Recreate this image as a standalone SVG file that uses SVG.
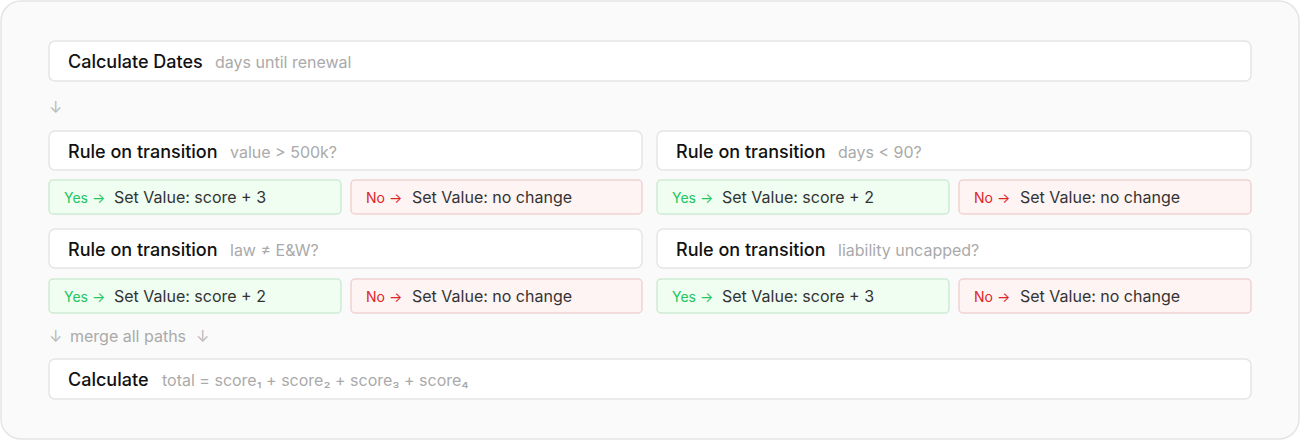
<svg xmlns="http://www.w3.org/2000/svg" width="1300" height="440" viewBox="0 0 1300 440">
<style>
.box{fill:#fff;stroke:#e5e5e5;stroke-width:1.5}
.yes{fill:#f0fdf1;stroke:#cfead4;stroke-width:1.5}
.no{fill:#fef4f4;stroke:#f0d2d2;stroke-width:1.5}
.t{font-family:Inter,"Liberation Sans",sans-serif;font-size:18px;font-weight:500;fill:#111}
.s{font-family:Inter,"Liberation Sans",sans-serif;font-size:16px;fill:#aaa}
.sv{font-family:Inter,"Liberation Sans",sans-serif;font-size:16px;fill:#333}
.yl{font-family:Inter,"Liberation Sans",sans-serif;font-size:14px;fill:#22c55e}
.nl{font-family:Inter,"Liberation Sans",sans-serif;font-size:14px;fill:#e02424}
.ar{font-family:Inter,"Liberation Sans",sans-serif;font-size:16px;fill:#bbb}
</style>
<rect x="1" y="1" width="1298" height="438" rx="20" fill="#fafafa" stroke="#e5e5e5" stroke-width="1.5"/>
<g id="n-dates"><rect class="box" x="49" y="41" width="1202" height="40" rx="6"/><text class="t" x="68" y="68">Calculate Dates</text><text class="s" x="215" y="68">days until renewal</text></g>
<g id="connectors">
<text class="ar" x="49" y="113">↓</text>
<text class="ar" x="49" y="342">↓</text>
<text class="s" x="70" y="342">merge all paths</text>
<text class="ar" x="196" y="342">↓</text>
</g>
<g id="rule1"><rect class="box" x="49" y="131" width="593" height="39" rx="6"/><text class="t" x="68" y="158">Rule on transition</text><text class="s" x="230" y="158">value &gt; 500k?</text></g>
<g id="rule1-yes"><rect class="yes" x="49" y="180" width="292" height="34" rx="4"/><text class="yl" x="64" y="203">Yes →</text><text class="sv" x="114" y="203">Set Value: score + 3</text></g>
<g id="rule1-no"><rect class="no" x="351" y="180" width="291" height="34" rx="4"/><text class="nl" x="366" y="203">No →</text><text class="sv" x="412" y="203">Set Value: no change</text></g>
<g id="rule2"><rect class="box" x="657" y="131" width="594" height="39" rx="6"/><text class="t" x="676" y="158">Rule on transition</text><text class="s" x="838" y="158">days &lt; 90?</text></g>
<g id="rule2-yes"><rect class="yes" x="657" y="180" width="292" height="34" rx="4"/><text class="yl" x="672" y="203">Yes →</text><text class="sv" x="722" y="203">Set Value: score + 2</text></g>
<g id="rule2-no"><rect class="no" x="959" y="180" width="292" height="34" rx="4"/><text class="nl" x="974" y="203">No →</text><text class="sv" x="1020" y="203">Set Value: no change</text></g>
<g id="rule3"><rect class="box" x="49" y="229" width="593" height="39" rx="6"/><text class="t" x="68" y="256">Rule on transition</text><text class="s" x="230" y="256">law ≠ E&amp;W?</text></g>
<g id="rule3-yes"><rect class="yes" x="49" y="279" width="292" height="34" rx="4"/><text class="yl" x="64" y="302">Yes →</text><text class="sv" x="114" y="302">Set Value: score + 2</text></g>
<g id="rule3-no"><rect class="no" x="351" y="279" width="291" height="34" rx="4"/><text class="nl" x="366" y="302">No →</text><text class="sv" x="412" y="302">Set Value: no change</text></g>
<g id="rule4"><rect class="box" x="657" y="229" width="594" height="39" rx="6"/><text class="t" x="676" y="256">Rule on transition</text><text class="s" x="838" y="256">liability uncapped?</text></g>
<g id="rule4-yes"><rect class="yes" x="657" y="279" width="292" height="34" rx="4"/><text class="yl" x="672" y="302">Yes →</text><text class="sv" x="722" y="302">Set Value: score + 3</text></g>
<g id="rule4-no"><rect class="no" x="959" y="279" width="292" height="34" rx="4"/><text class="nl" x="974" y="302">No →</text><text class="sv" x="1020" y="302">Set Value: no change</text></g>
<g id="n-calc"><rect class="box" x="49" y="359" width="1202" height="40" rx="6"/><text class="t" x="68" y="386">Calculate</text><text class="s" x="162" y="386">total = score₁ + score₂ + score₃ + score₄</text></g>
</svg>
